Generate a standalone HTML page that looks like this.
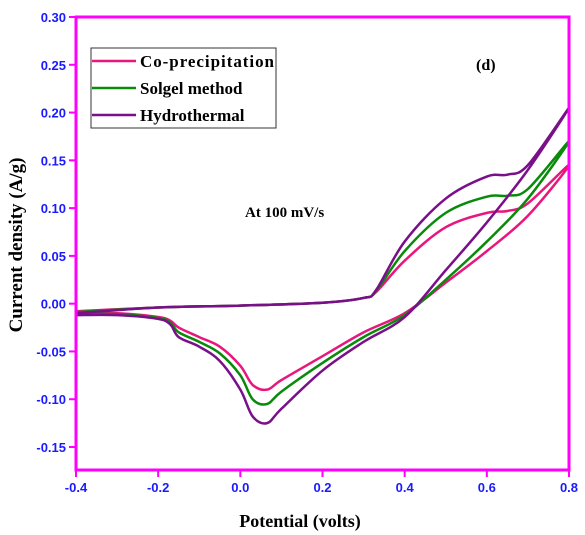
<!DOCTYPE html>
<html><head><meta charset="utf-8"><style>
body{margin:0;background:#fff;}
svg{display:block;}
.tk{font-family:"Liberation Sans",sans-serif;font-weight:bold;font-size:13px;fill:#1a1aff;}
.ser{font-family:"Liberation Serif",serif;font-weight:bold;}
</style></head><body>
<svg id="chart" width="585" height="535"></svg>
<script>
const xTicks=[-0.4,-0.2,0.0,0.2,0.4,0.6,0.8];
const yTicks=[0.30,0.25,0.20,0.15,0.10,0.05,0.00,-0.05,-0.10,-0.15];
const seriesNames=["Co-precipitation","Solgel method","Hydrothermal"];
const seriesColors=["#e8177d","#0a8a0a","#7a0f8a"];
const potential=[-0.4,-0.2,0,0.2,0.3,0.33,0.4,0.5,0.6,0.65,0.7,0.8,0.7,0.6,0.5,0.4,0.3,0.2,0.1,0.065,0.03,0,-0.05,-0.1,-0.15,-0.17,-0.2,-0.3,-0.4];
const coprecip=[-0.008,-0.004,-0.002,0.001,0.006,0.012,0.045,0.08,0.095,0.097,0.105,0.145,0.092,0.055,0.022,-0.01,-0.03,-0.055,-0.08,-0.09,-0.085,-0.065,-0.045,-0.035,-0.025,-0.018,-0.014,-0.01,-0.01];
const solgel=[-0.009,-0.004,-0.002,0.001,0.006,0.013,0.055,0.095,0.112,0.113,0.12,0.17,0.11,0.065,0.025,-0.012,-0.035,-0.062,-0.092,-0.105,-0.1,-0.075,-0.052,-0.04,-0.03,-0.02,-0.015,-0.011,-0.011];
const hydro=[-0.01,-0.004,-0.002,0.001,0.006,0.014,0.065,0.11,0.133,0.135,0.145,0.205,0.14,0.085,0.035,-0.014,-0.04,-0.07,-0.11,-0.125,-0.118,-0.09,-0.06,-0.045,-0.035,-0.022,-0.016,-0.012,-0.012];
const allSeries=[coprecip,solgel,hydro];

const svg=document.getElementById('chart');
const NS='http://www.w3.org/2000/svg';
const X0=76,X1=569,Y0=470,Y1=17;
const xMin=-0.4,xMax=0.8,yTop=0.30,yBot=-0.15,yBotPx=447;
function sx(v){return X0+(v-xMin)/(xMax-xMin)*(X1-X0);}
function sy(v){return Y1+(yTop-v)/(yTop-yBot)*(yBotPx-Y1);}
function mk(tag,attrs,parent){const e=document.createElementNS(NS,tag);for(const k in attrs)e.setAttribute(k,attrs[k]);(parent||svg).appendChild(e);return e;}

allSeries.forEach((s,i)=>{
  const pts=potential.map((x,j)=>[sx(x),sy(s[j])]);
  let d='M'+pts[0][0]+','+pts[0][1];
  for(let j=0;j<pts.length-1;j++){
    const p0=pts[Math.max(0,j-1)],p1=pts[j],p2=pts[j+1],p3=pts[Math.min(pts.length-1,j+2)];
    const c1=[p1[0]+(p2[0]-p0[0])/6,p1[1]+(p2[1]-p0[1])/6];
    const c2=[p2[0]-(p3[0]-p1[0])/6,p2[1]-(p3[1]-p1[1])/6];
    d+=' C'+c1[0]+','+c1[1]+' '+c2[0]+','+c2[1]+' '+p2[0]+','+p2[1];
  }
  const p=mk('path',{d:d,fill:'none',stroke:seriesColors[i],'stroke-width':2.5,'stroke-linejoin':'round'});
  
  
});

const fr=mk('rect',{x:X0,y:Y1,width:X1-X0,height:Y0-Y1,fill:'none',stroke:'#ff00ff','stroke-width':3});



xTicks.forEach(v=>{
  const l=mk('line',{x1:sx(v),x2:sx(v),y1:Y0,y2:Y0+7,stroke:'#ff00ff','stroke-width':2});
  
  
  const t=mk('text',{x:sx(v),y:Y0+22,'text-anchor':'middle',class:'tk'});
  t.textContent=v.toFixed(1);
  
  
});
yTicks.forEach(v=>{
  const l=mk('line',{x1:X0-7,x2:X0,y1:sy(v),y2:sy(v),stroke:'#ff00ff','stroke-width':2});
  
  
  const t=mk('text',{x:X0-10,y:sy(v)+5,'text-anchor':'end',class:'tk'});
  t.textContent=v.toFixed(2);
  
  
});

const xt=mk('text',{x:300,y:527,'text-anchor':'middle',class:'ser','font-size':18});
xt.textContent='Potential (volts)';


const yt=mk('text',{x:0,y:0,'text-anchor':'middle',class:'ser','font-size':19,transform:'translate(22,245) rotate(-90)'});
yt.textContent='Current density (A/g)';



const an=mk('text',{x:245,y:217,class:'ser','font-size':15});
an.textContent='At 100 mV/s';


const pl=mk('text',{x:476,y:70,class:'ser','font-size':16});
pl.textContent='(d)';



const lg=mk('g',{});


mk('rect',{x:91,y:48,width:185,height:80,fill:'#fff',stroke:'#333','stroke-width':1},lg);
seriesNames.forEach((n,i)=>{
  const y=61+i*27;
  const ln=mk('line',{x1:92,x2:136,y1:y,y2:y,stroke:seriesColors[i],'stroke-width':2.5},lg);
  
  
  const t=mk('text',{x:140,y:y+6,class:'ser','font-size':17,textLength:n.length>13?134:0},lg);
  if(n.length<=13)t.removeAttribute('textLength');
  t.textContent=n;
  
  
});
</script>
</body></html>
